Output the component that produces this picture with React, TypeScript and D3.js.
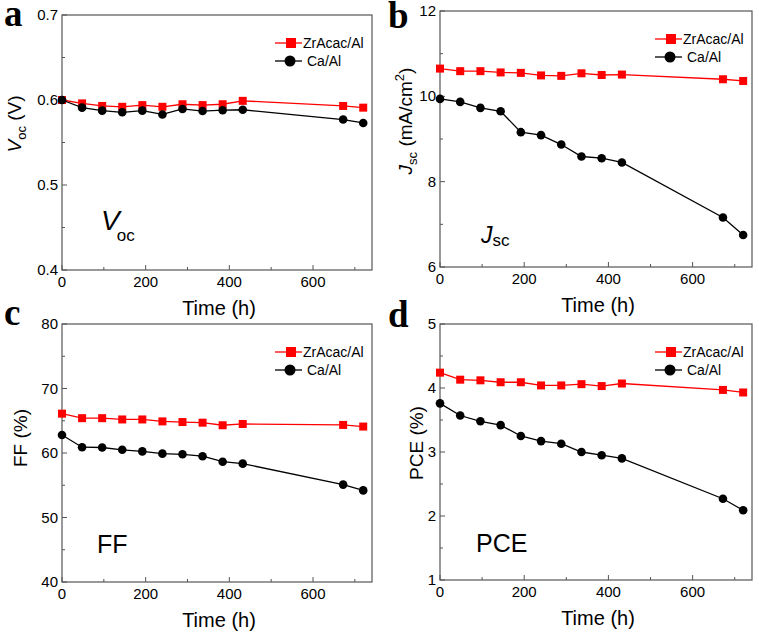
import React from "react";
import * as d3 from "d3";

const hours = [0, 48, 96, 144, 192, 240, 288, 336, 384, 432, 672, 720];
const seriesNames = ["ZrAcac/Al", "Ca/Al"];

const vocZr = [0.6, 0.596, 0.593, 0.592, 0.594, 0.592, 0.595, 0.594, 0.595, 0.599, 0.593, 0.591];
const vocCa = [0.6, 0.591, 0.5875, 0.5855, 0.5875, 0.583, 0.5895, 0.587, 0.588, 0.5885, 0.577, 0.573];

const jscZr = [10.65, 10.59, 10.59, 10.56, 10.55, 10.49, 10.48, 10.54, 10.5, 10.51, 10.4, 10.36];
const jscCa = [9.94, 9.87, 9.73, 9.65, 9.16, 9.09, 8.87, 8.59, 8.55, 8.45, 7.16, 6.75];

const ffZr = [66.1, 65.4, 65.4, 65.2, 65.2, 64.9, 64.8, 64.7, 64.3, 64.5, 64.35, 64.1];
const ffCa = [62.8, 60.9, 60.85, 60.5, 60.25, 59.9, 59.8, 59.5, 58.65, 58.35, 55.1, 54.2];

const pceZr = [4.24, 4.13, 4.12, 4.09, 4.09, 4.04, 4.04, 4.06, 4.03, 4.07, 3.97, 3.93];
const pceCa = [3.76, 3.57, 3.48, 3.42, 3.25, 3.17, 3.13, 3.0, 2.95, 2.9, 2.27, 2.09];

const xTicks = [0, 200, 400, 600];
const xMinor = [100, 300, 500, 700];

const FONT = "Liberation Sans, Arial, sans-serif";
const RED = "#ff0000";
const AXIS = "#555";

type PanelProps = {
  left: number;
  top: number;
  right: number;
  bottom: number;
  yDomain: [number, number];
  yTicks: number[];
  yMinor: number[];
  fmt: (v: number) => string;
  zr: number[];
  ca: number[];
  letter: string;
  letterX: number;
  letterY: number;
  yTitle: React.ReactNode;
  yTitleX: number;
  yTitleY: number;
  inset: React.ReactNode;
};

const Panel = (p: PanelProps) => {
  const x = d3.scaleLinear().domain([0, 741]).range([p.left, p.right]);
  const y = d3.scaleLinear().domain(p.yDomain).range([p.bottom, p.top]);
  const line = d3
    .line<number>()
    .x((d, i) => x(hours[i]))
    .y((d) => y(d));
  const legX = p.right - 97;
  const legY = p.top + 28;

  return (
    <g>
      <text x={p.letterX} y={p.letterY} fontFamily="Liberation Serif, Times New Roman, serif" fontWeight="bold" fontSize={37}>
        {p.letter}
      </text>
      <rect x={p.left} y={p.top} width={p.right - p.left} height={p.bottom - p.top} fill="none" stroke={AXIS} strokeWidth={1.2} />
      {xTicks.map((t) => (
        <g key={"x" + t}>
          <line x1={x(t)} x2={x(t)} y1={p.bottom} y2={p.bottom - 5} stroke={AXIS} />
          <text x={x(t)} y={p.bottom + 17} textAnchor="middle" fontFamily={FONT} fontSize={15}>
            {t}
          </text>
        </g>
      ))}
      {xMinor.map((t) => (
        <line key={"xm" + t} x1={x(t)} x2={x(t)} y1={p.bottom} y2={p.bottom - 3} stroke={AXIS} />
      ))}
      {p.yTicks.map((t) => (
        <g key={"y" + t}>
          <line x1={p.left} x2={p.left + 5} y1={y(t)} y2={y(t)} stroke={AXIS} />
          <text x={p.left - 4} y={y(t) + 5} textAnchor="end" fontFamily={FONT} fontSize={15}>
            {p.fmt(t)}
          </text>
        </g>
      ))}
      {p.yMinor.map((t) => (
        <line key={"ym" + t} x1={p.left} x2={p.left + 3} y1={y(t)} y2={y(t)} stroke={AXIS} />
      ))}
      <text x={(p.left + p.right) / 2 + 2} y={p.bottom + 45} textAnchor="middle" fontFamily={FONT} fontSize={20}>
        Time (h)
      </text>
      <text
        transform={`translate(${p.yTitleX},${p.yTitleY}) rotate(-90)`}
        textAnchor="middle"
        fontFamily={FONT}
        fontSize={19}
      >
        {p.yTitle}
      </text>
      {p.inset}

      <path d={line(p.zr) || ""} fill="none" stroke={RED} strokeWidth={1.3} />
      {p.zr.map((v, i) => (
        <rect key={"r" + i} x={x(hours[i]) - 4} y={y(v) - 4} width={8} height={8} fill={RED} />
      ))}
      <path d={line(p.ca) || ""} fill="none" stroke="#000" strokeWidth={1.3} />
      {p.ca.map((v, i) => (
        <circle key={"c" + i} cx={x(hours[i])} cy={y(v)} r={4.3} fill="#000" />
      ))}

      <line x1={legX} x2={legX + 27} y1={legY} y2={legY} stroke={RED} strokeWidth={1.3} />
      <rect x={legX + 11} y={legY - 5} width={10} height={10} fill={RED} />
      <text x={legX + 28} y={legY + 5} fontFamily={FONT} fontSize={14}>
        {seriesNames[0]}
      </text>
      <line x1={legX} x2={legX + 27} y1={legY + 18} y2={legY + 18} stroke="#000" strokeWidth={1.3} />
      <circle cx={legX + 15} cy={legY + 18} r={5.5} fill="#000" />
      <text x={legX + 32} y={legY + 23} fontFamily={FONT} fontSize={14}>
        {seriesNames[1]}
      </text>
    </g>
  );
};

const App = () => {
  return (
    <svg width={759} height={639} style={{ position: "absolute", left: 0, top: 0 }}>
      <rect width={759} height={639} fill="#fff" />
      <Panel
        left={62}
        top={15}
        right={372}
        bottom={270}
        yDomain={[0.4, 0.7]}
        yTicks={[0.4, 0.5, 0.6, 0.7]}
        yMinor={[0.45, 0.55, 0.65]}
        fmt={d3.format(".1f")}
        zr={vocZr}
        ca={vocCa}
        letter="a"
        letterX={4}
        letterY={26}
        yTitleX={21}
        yTitleY={124}
        yTitle={
          <>
            <tspan fontStyle="italic">V</tspan>
            <tspan fontSize={13} dy={5}>oc</tspan>
            <tspan dy={-5}> (V)</tspan>
          </>
        }
        inset={
          <text x={101} y={230} fontFamily={FONT} fontSize={28}>
            <tspan fontStyle="italic">V</tspan>
            <tspan fontSize={17} dx={-3} dy={11}>oc</tspan>
          </text>
        }
      />
      <Panel
        left={440}
        top={11}
        right={752}
        bottom={267}
        yDomain={[6, 12]}
        yTicks={[6, 8, 10, 12]}
        yMinor={[7, 9, 11]}
        fmt={d3.format("d")}
        zr={jscZr}
        ca={jscCa}
        letter="b"
        letterX={388}
        letterY={28}
        yTitleX={412}
        yTitleY={121}
        yTitle={
          <>
            <tspan fontStyle="italic">J</tspan>
            <tspan fontSize={13} dy={5}>sc</tspan>
            <tspan dy={-5}> (mA/cm</tspan>
            <tspan fontSize={13} dy={-8}>2</tspan>
            <tspan dy={8}>)</tspan>
          </>
        }
        inset={
          <text x={481} y={243} fontFamily={FONT} fontSize={23}>
            <tspan fontStyle="italic">J</tspan>
            <tspan fontSize={17} dx={0} dy={3}>sc</tspan>
          </text>
        }
      />
      <Panel
        left={62}
        top={324}
        right={372}
        bottom={582}
        yDomain={[40, 80]}
        yTicks={[40, 50, 60, 70, 80]}
        yMinor={[45, 55, 65, 75]}
        fmt={d3.format("d")}
        zr={ffZr}
        ca={ffCa}
        letter="c"
        letterX={4}
        letterY={325}
        yTitleX={27}
        yTitleY={438}
        yTitle={"FF (%)"}
        inset={
          <text x={97} y={553} fontFamily={FONT} fontSize={25}>
            FF
          </text>
        }
      />
      <Panel
        left={440}
        top={324}
        right={752}
        bottom={580}
        yDomain={[1, 5]}
        yTicks={[1, 2, 3, 4, 5]}
        yMinor={[1.5, 2.5, 3.5, 4.5]}
        fmt={d3.format("d")}
        zr={pceZr}
        ca={pceCa}
        letter="d"
        letterX={388}
        letterY={327}
        yTitleX={423}
        yTitleY={443}
        yTitle={"PCE (%)"}
        inset={
          <text x={476} y={552} fontFamily={FONT} fontSize={25}>
            PCE
          </text>
        }
      />
    </svg>
  );
};

export default App;
